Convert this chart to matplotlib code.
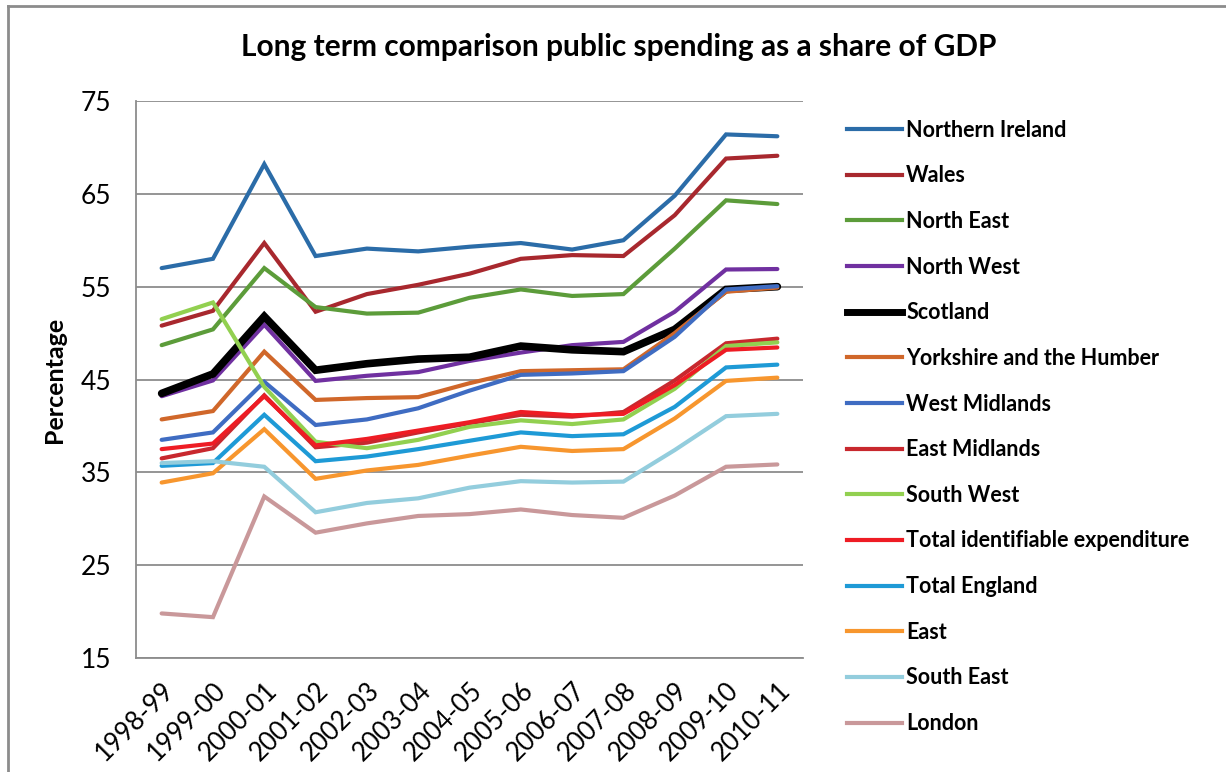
import matplotlib
matplotlib.use("Agg")
import matplotlib.pyplot as plt
from matplotlib.lines import Line2D

plt.rcParams['font.family'] = ['Lato', 'DejaVu Sans']

years = ["1998-99", "1999-00", "2000-01", "2001-02", "2002-03", "2003-04", "2004-05",
         "2005-06", "2006-07", "2007-08", "2008-09", "2009-10", "2010-11"]

northern_ireland = [57.0, 58.0, 68.2, 58.3, 59.1, 58.8, 59.3, 59.7, 59.0, 60.0, 64.8, 71.4, 71.2]
wales = [50.8, 52.4, 59.7, 52.3, 54.2, 55.2, 56.4, 58.0, 58.4, 58.3, 62.7, 68.8, 69.1]
north_east = [48.7, 50.4, 57.0, 52.8, 52.1, 52.2, 53.8, 54.7, 54.0, 54.2, 59.1, 64.3, 63.9]
north_west = [43.2, 44.9, 50.9, 44.85, 45.4, 45.8, 47.0, 47.9, 48.7, 49.05, 52.3, 56.85, 56.9]
scotland = [43.5, 45.6, 51.8, 46.0, 46.7, 47.2, 47.4, 48.6, 48.2, 48.0, 50.4, 54.7, 55.0]
yorkshire = [40.7, 41.6, 48.0, 42.8, 43.0, 43.1, 44.6, 45.9, 46.0, 46.1, 50.0, 54.45, 54.9]
west_midlands = [38.5, 39.3, 44.75, 40.1, 40.7, 41.9, 43.8, 45.5, 45.65, 45.9, 49.6, 54.7, 55.05]
east_midlands = [36.5, 37.6, 43.3, 37.7, 38.2, 39.3, 40.3, 41.2, 41.0, 41.5, 44.9, 48.9, 49.4]
south_west = [51.5, 53.3, 44.2, 38.3, 37.6, 38.5, 39.9, 40.6, 40.2, 40.7, 44.0, 48.6, 49.0]
total_identifiable = [37.5, 38.1, 43.2, 37.9, 38.6, 39.5, 40.4, 41.5, 41.15, 41.3, 44.4, 48.2, 48.45]
total_england = [35.7, 36.0, 41.2, 36.2, 36.7, 37.5, 38.4, 39.3, 38.9, 39.1, 42.05, 46.3, 46.6]
east = [33.9, 34.9, 39.65, 34.3, 35.2, 35.8, 36.8, 37.75, 37.3, 37.5, 40.8, 44.85, 45.2]
south_east = [36.0, 36.2, 35.6, 30.7, 31.7, 32.2, 33.35, 34.05, 33.9, 34.0, 37.4, 41.05, 41.3]
london = [19.8, 19.4, 32.4, 28.5, 29.5, 30.3, 30.5, 31.0, 30.4, 30.1, 32.5, 35.6, 35.85]

series = [
    ("Northern Ireland", northern_ireland, "#2B6CA8", 3.0),
    ("Wales", wales, "#A8282E", 3.0),
    ("North East", north_east, "#5C9C3A", 3.0),
    ("North West", north_west, "#7030A0", 3.0),
    ("Scotland", scotland, "#000000", 5.5),
    ("Yorkshire and the Humber", yorkshire, "#D0672A", 3.0),
    ("West Midlands", west_midlands, "#3F6CC2", 3.0),
    ("East Midlands", east_midlands, "#C8282E", 3.0),
    ("South West", south_west, "#92D050", 3.0),
    ("Total identifiable expenditure", total_identifiable, "#EE1C24", 3.0),
    ("Total England", total_england, "#1E9AD6", 3.0),
    ("East", east, "#F7962E", 3.0),
    ("South East", south_east, "#93CDDD", 3.0),
    ("London", london, "#C9989A", 3.0),
]

W, H = 1226, 772
fig = plt.figure(figsize=(W / 100, H / 100), dpi=100)
ax = fig.add_axes([136 / W, 1 - 658 / H, (803 - 136) / W, (658 - 101) / H])

x = list(range(len(years)))
for name, vals, color, lw in series:
    ax.plot(x, vals, color=color, lw=lw, solid_joinstyle='miter',
            solid_capstyle='round', label=name)

ax.set_xlim(-0.5, len(years) - 0.5)
ax.set_ylim(15, 75)
ax.set_yticks([15, 25, 35, 45, 55, 65, 75])
ax.yaxis.grid(True, color="#8C8C8C", lw=1.3)
ax.set_axisbelow(True)
for side in ("top", "right"):
    ax.spines[side].set_visible(False)
for side in ("left", "bottom"):
    ax.spines[side].set_color("#8C8C8C")
    ax.spines[side].set_linewidth(1.3)

ax.tick_params(axis='y', length=0, pad=18, labelsize=19)
ax.tick_params(axis='x', length=0, pad=14)
ax.set_xticks(x)
ax.set_xticklabels(years, rotation=45, ha='right', va='top',
                   rotation_mode='anchor', fontsize=18.5)

ax.set_ylabel("Percentage", fontsize=18, fontweight='bold', labelpad=10)

fig.text(0.505, 1 - 47 / H, "Long term comparison public spending as a share of GDP",
         ha='center', va='center', fontsize=21.5, fontweight='bold')

leg_handles = [Line2D([0], [0], color=c, lw=(5.0 if n == "Scotland" else 3.0))
               for n, _, c, _ in series]
fig.legend(leg_handles, [s[0] for s in series], loc='upper left',
           bbox_to_anchor=(838 / W, 1 - 111 / H), frameon=False,
           prop={'weight': 'bold', 'size': 15.5}, handlelength=2.55,
           handletextpad=0.22, labelspacing=1.145, borderaxespad=0)

# outer chart frame
fig.add_artist(Line2D([8 / W, 8 / W], [0, 1 - 6 / H], color="#8C8C8C", lw=2))
fig.add_artist(Line2D([8 / W, 1], [1 - 6 / H, 1 - 6 / H], color="#8C8C8C", lw=2))

fig.savefig("out.png", dpi=100)
